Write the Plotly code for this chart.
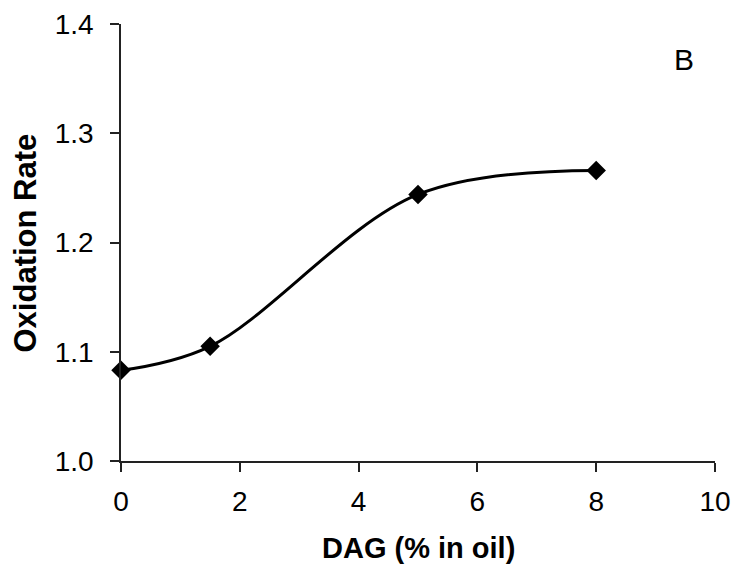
import plotly.graph_objects as go

dag = [0, 1.5, 5, 8]
oxidation_rate = [1.083, 1.105, 1.244, 1.266]
x_ticks = [0, 2, 4, 6, 8, 10]
y_ticks = [1.0, 1.1, 1.2, 1.3, 1.4]

fig = go.Figure()
fig.add_trace(go.Scatter(
    x=dag, y=oxidation_rate, mode="lines+markers",
    line=dict(shape="spline", smoothing=1.0, color="black", width=3),
    marker=dict(symbol="diamond", size=15, color="black"),
    cliponaxis=False, showlegend=False,
))

FONT = "Liberation Sans, Arial, sans-serif"
axis_font = dict(family=FONT, size=28, color="black")

fig.update_layout(
    width=735, height=573,
    margin=dict(l=121, r=20, t=24, b=112),
    paper_bgcolor="white", plot_bgcolor="white",
    xaxis=dict(
        range=[0, 10], tickvals=x_ticks, ticks="outside", ticklen=9, tickwidth=1.5,
        tickcolor="#222", showline=True, linecolor="#222", linewidth=1.5,
        showgrid=False, zeroline=False, tickfont=axis_font, ticklabelstandoff=6,
        automargin=False,
    ),
    yaxis=dict(
        range=[1.0, 1.4], tickvals=y_ticks, tickformat=".1f", ticks="outside", ticklen=9,
        tickwidth=1.5, tickcolor="#222", showline=True, linecolor="#222", linewidth=1.5,
        showgrid=False, zeroline=False, tickfont=axis_font, ticklabelstandoff=11,
        automargin=False,
    ),
    annotations=[
        dict(text="B", xref="paper", yref="paper",
             x=(696 - 121) / (715 - 121), y=1 - (41 - 24) / (461 - 24), showarrow=False,
             font=dict(family=FONT, size=30, color="black")),
        dict(text="<b>DAG (% in oil)</b>", xref="paper", yref="paper",
             x=0.5, y=-(548 - 461) / (461 - 24), yanchor="middle", showarrow=False,
             font=dict(family=FONT, size=29, color="black")),
        dict(text="<b>Oxidation Rate</b>", xref="paper", yref="paper", textangle=-90,
             x=-(121 - 25) / (715 - 121), y=0.5, xanchor="center", showarrow=False,
             font=dict(family=FONT, size=31, color="black")),
    ],
)

fig.write_html("out.html")
